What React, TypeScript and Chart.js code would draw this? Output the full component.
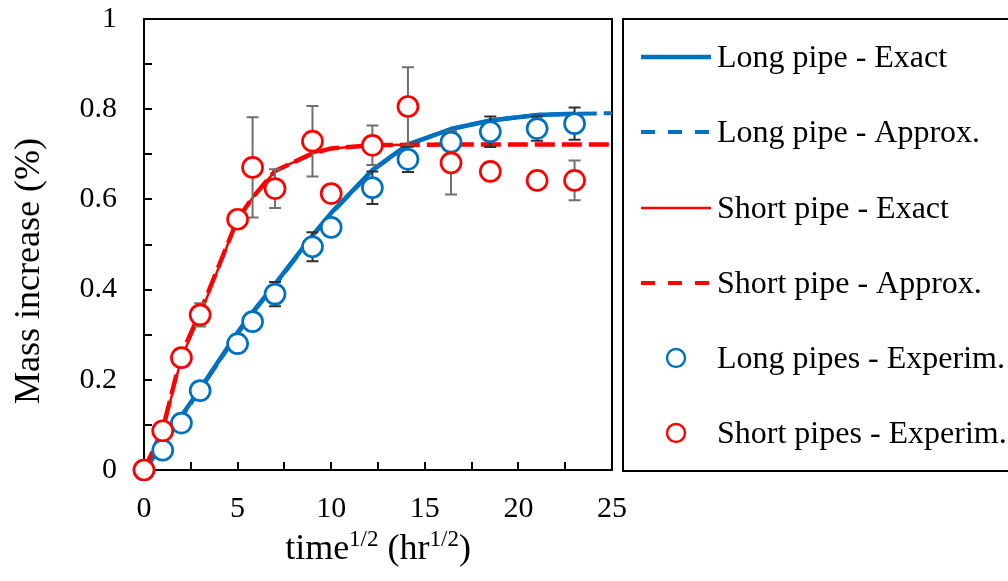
import React, { useEffect, useRef } from 'react';
import { Chart, registerables } from 'chart.js';

Chart.register(...registerables);

const FONT = '"Times New Roman", "Liberation Serif", serif';
const BLUE = '#0070C0';
const RED = '#FF0000';

// ---- data ----
const expX = [0, 1, 2, 3, 5, 5.8, 7, 9, 10, 12.2, 14.1, 16.4, 18.5, 21, 23];
const longExpY = [0, 0.044, 0.104, 0.176, 0.28, 0.329, 0.39, 0.495, 0.538, 0.626, 0.689, 0.727, 0.75, 0.757, 0.768];
const longExpErr = [0, 0, 0, 0, 0, 0, 0.027, 0.032, 0, 0.036, 0.028, 0, 0.034, 0.027, 0.036];
const shortExpY = [0, 0.087, 0.249, 0.344, 0.556, 0.671, 0.624, 0.729, 0.613, 0.72, 0.806, 0.681, 0.662, 0.642, 0.642];
const shortExpErr = [0, 0, 0, 0.026, 0, 0.111, 0.043, 0.078, 0, 0.044, 0.087, 0.07, 0, 0, 0.044];

const longExactX = [0, 1, 2, 3, 5, 5.8, 7, 9, 10, 12.2, 14.1, 16.4, 18.5, 21, 23];
const longExactY = [0, 0.058, 0.12, 0.18, 0.305, 0.35, 0.412, 0.52, 0.57, 0.665, 0.722, 0.756, 0.775, 0.787, 0.79];
const longApproxX = [0, 1, 2, 3, 5, 5.8, 7, 9, 10, 12.2, 14.1, 16.4, 18.5, 21, 23, 25];
const longApproxY = [0, 0.055, 0.117, 0.178, 0.302, 0.348, 0.41, 0.518, 0.568, 0.664, 0.721, 0.756, 0.775, 0.787, 0.79, 0.791];
const shortExactX = [0, 1, 2, 3, 5, 5.8, 7, 9, 10, 12.2, 14.1];
const shortExactY = [0, 0.087, 0.249, 0.344, 0.556, 0.604, 0.663, 0.702, 0.713, 0.72, 0.721];
const shortApproxX = [0, 1, 2, 3, 5, 5.8, 7, 9, 10, 12.2, 14.1, 16.4, 18.5, 21, 23, 25];
const shortApproxY = [0, 0.09, 0.256, 0.35, 0.556, 0.604, 0.663, 0.702, 0.713, 0.72, 0.721, 0.722, 0.722, 0.722, 0.722, 0.722];

const xTickLabels = ['0', '5', '10', '15', '20', '25'];
const yTickLabels = ['0', '0.2', '0.4', '0.6', '0.8', '1'];
const legendLabels = [
  'Long pipe - Exact',
  'Long pipe - Approx.',
  'Short pipe - Exact',
  'Short pipe - Approx.',
  'Long pipes - Experim.',
  'Short pipes - Experim.',
];
const yTitle = 'Mass increase (%)';
const xTitleParts = [
  { t: 'time', sup: false },
  { t: '1/2', sup: true },
  { t: ' (hr', sup: false },
  { t: '1/2', sup: true },
  { t: ')', sup: false },
];

const pts = (xs: number[], ys: number[]) => xs.map((x, i) => ({ x, y: ys[i] }));

const decorPlugin = {
  id: 'decor',
  beforeDatasetsDraw(chart: any) {
    const { ctx, chartArea: a, scales } = chart;
    ctx.save();
    ctx.strokeStyle = '#000';
    ctx.lineWidth = 2;
    ctx.strokeRect(a.left, a.top, a.right - a.left, a.bottom - a.top);
    ctx.beginPath();
    scales.x.ticks.forEach((t: any) => {
      const px = Math.round(scales.x.getPixelForValue(t.value));
      ctx.moveTo(px, a.bottom);
      ctx.lineTo(px, a.bottom - 8);
    });
    scales.y.ticks.forEach((t: any) => {
      const py = Math.round(scales.y.getPixelForValue(t.value));
      ctx.moveTo(a.left, py);
      ctx.lineTo(a.left + 8, py);
    });
    ctx.stroke();
    ctx.restore();
  },
  beforeDatasetDraw(chart: any, args: any) {
    if (args.index !== 4) return;
    const { ctx, scales } = chart;
    const drawBars = (ys: number[], errs: number[], color: string) => {
      ctx.save();
      ctx.strokeStyle = color;
      ctx.lineWidth = 2;
      ctx.beginPath();
      expX.forEach((xv, i) => {
        const e = errs[i];
        if (!e) return;
        const px = scales.x.getPixelForValue(xv);
        const y1 = scales.y.getPixelForValue(ys[i] + e);
        const y2 = scales.y.getPixelForValue(ys[i] - e);
        ctx.moveTo(px, y1);
        ctx.lineTo(px, y2);
        ctx.moveTo(px - 6, y1);
        ctx.lineTo(px + 6, y1);
        ctx.moveTo(px - 6, y2);
        ctx.lineTo(px + 6, y2);
      });
      ctx.stroke();
      ctx.restore();
    };
    drawBars(shortExpY, shortExpErr, '#707070');
    drawBars(longExpY, longExpErr, '#303030');
  },
  afterDraw(chart: any) {
    const { ctx, chartArea: a } = chart;
    ctx.save();
    ctx.fillStyle = '#000';
    // y title
    ctx.save();
    ctx.translate(39, 271);
    ctx.rotate(-Math.PI / 2);
    ctx.font = `36px ${FONT}`;
    ctx.textAlign = 'center';
    ctx.textBaseline = 'alphabetic';
    ctx.fillText(yTitle, 0, 0);
    ctx.restore();
    // x title
    const mainF = `36px ${FONT}`;
    const supF = `23px ${FONT}`;
    let total = 0;
    xTitleParts.forEach((p) => {
      ctx.font = p.sup ? supF : mainF;
      total += ctx.measureText(p.t).width;
    });
    let x = (a.left + a.right) / 2 - total / 2;
    const base = 559;
    ctx.textAlign = 'left';
    ctx.textBaseline = 'alphabetic';
    xTitleParts.forEach((p) => {
      ctx.font = p.sup ? supF : mainF;
      ctx.fillText(p.t, x, p.sup ? base - 13 : base);
      x += ctx.measureText(p.t).width;
    });
    // legend
    ctx.strokeStyle = '#000';
    ctx.lineWidth = 2;
    ctx.strokeRect(623, 19, 420, 452);
    const rows = [57, 132, 208, 283, 358, 433];
    const styles = [
      { c: BLUE, w: 4.5, dash: [] as number[] },
      { c: BLUE, w: 4, dash: [14, 13] },
      { c: RED, w: 2.5, dash: [] as number[] },
      { c: RED, w: 4, dash: [14, 13] },
    ];
    rows.forEach((ry, i) => {
      if (i < 4) {
        const s = styles[i];
        ctx.save();
        ctx.strokeStyle = s.c;
        ctx.lineWidth = s.w;
        ctx.setLineDash(s.dash);
        ctx.beginPath();
        ctx.moveTo(641, ry);
        ctx.lineTo(711, ry);
        ctx.stroke();
        ctx.restore();
      } else {
        ctx.save();
        ctx.strokeStyle = i === 4 ? BLUE : RED;
        ctx.lineWidth = 2.4;
        ctx.fillStyle = '#fff';
        ctx.beginPath();
        ctx.arc(676, ry, 9, 0, Math.PI * 2);
        ctx.fill();
        ctx.stroke();
        ctx.restore();
      }
      ctx.font = `32px ${FONT}`;
      ctx.fillStyle = '#000';
      ctx.textAlign = 'left';
      ctx.textBaseline = 'alphabetic';
      ctx.fillText(legendLabels[i], 717, ry + 10);
    });
    ctx.restore();
  },
};

export default function App() {
  const ref = useRef<HTMLCanvasElement | null>(null);
  useEffect(() => {
    if (!ref.current) return;
    const lineDs = (label: string, xs: number[], ys: number[], color: string, width: number, dash: number[], order: number) => ({
      label,
      data: pts(xs, ys),
      showLine: true,
      borderColor: color,
      backgroundColor: color,
      borderWidth: width,
      borderDash: dash,
      borderJoinStyle: 'round',
      pointRadius: 0,
      pointHoverRadius: 0,
      tension: 0,
      order,
    });
    const ptDs = (label: string, ys: number[], color: string, order: number) => ({
      label,
      data: pts(expX, ys),
      showLine: false,
      borderColor: color,
      backgroundColor: '#fff',
      pointBackgroundColor: '#fff',
      pointBorderColor: color,
      pointBorderWidth: 2.7,
      pointRadius: 10,
      pointHoverRadius: 10,
      clip: false,
      order,
    });
    const chart = new Chart(ref.current, {
      type: 'scatter',
      data: {
        datasets: [
          lineDs(legendLabels[0], longExactX, longExactY, BLUE, 4.5, [], 6),
          lineDs(legendLabels[1], longApproxX, longApproxY, BLUE, 4, [20, 7], 5),
          lineDs(legendLabels[2], shortExactX, shortExactY, RED, 2.5, [], 4),
          lineDs(legendLabels[3], shortApproxX, shortApproxY, RED, 4.5, [20, 7], 3),
          ptDs(legendLabels[4], longExpY, BLUE, 2),
          ptDs(legendLabels[5], shortExpY, RED, 1),
        ] as any,
      },
      options: {
        animation: false,
        responsive: false,
        devicePixelRatio: 1,
        layout: { padding: { left: 0, top: 19, right: 396, bottom: 0 } },
        plugins: { legend: { display: false }, tooltip: { enabled: false } },
        events: [],
        scales: {
          x: {
            type: 'linear',
            min: 0,
            max: 25,
            afterFit: (s: any) => {
              s.height = 111;
              s.paddingLeft = 0;
              s.paddingRight = 0;
            },
            grid: { display: false, drawTicks: false },
            border: { display: false },
            ticks: {
              stepSize: 2.5,
              autoSkip: false,
              maxRotation: 0,
              padding: 21,
              color: '#000',
              font: { family: FONT, size: 30 },
              callback: (v: any) => {
                const k = Math.round(Number(v) / 2.5);
                return k % 2 === 0 ? xTickLabels[k / 2] : '';
              },
            },
          },
          y: {
            type: 'linear',
            min: 0,
            max: 1,
            afterFit: (s: any) => {
              s.width = 144;
              s.paddingTop = 0;
              s.paddingBottom = 0;
            },
            grid: { display: false, drawTicks: false },
            border: { display: false },
            ticks: {
              stepSize: 0.1,
              autoSkip: false,
              padding: 27,
              color: '#000',
              font: { family: FONT, size: 30 },
              callback: (v: any) => {
                const k = Math.round(Number(v) * 10);
                return k % 2 === 0 ? yTickLabels[k / 2] : '';
              },
            },
          },
        },
      } as any,
      plugins: [decorPlugin],
    });
    return () => chart.destroy();
  }, []);
  return (
    <div style={{ position: 'absolute', left: 0, top: 0, width: 1008, height: 581, background: '#fff' }}>
      <canvas ref={ref} width={1008} height={581} style={{ display: 'block' }} />
    </div>
  );
}
